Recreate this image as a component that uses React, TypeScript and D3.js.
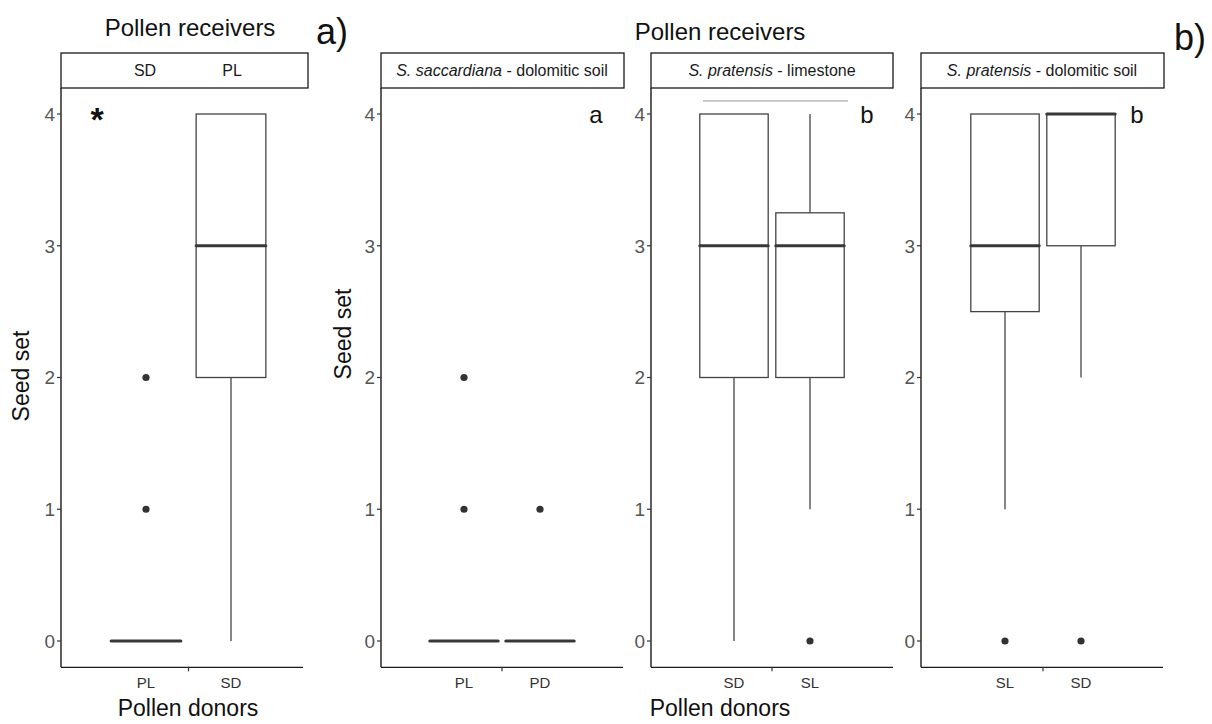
import React from 'react';
import * as d3 from 'd3';

// box stats: [lower whisker, q1, median, q3, upper whisker]
const catsA = ['PL', 'SD'];
const statsA = [[0, 0, 0, 0, 0], [0, 2, 3, 4, 4]];
const outA = [[1, 2], []];

const catsB1 = ['PL', 'PD'];
const statsB1 = [[0, 0, 0, 0, 0], [0, 0, 0, 0, 0]];
const outB1 = [[1, 2], [1]];

const catsB2 = ['SD', 'SL'];
const statsB2 = [[0, 2, 3, 4, 4], [1, 2, 3, 3.25, 4]];
const outB2 = [[], [0]];

const catsB3 = ['SL', 'SD'];
const statsB3 = [[1, 2.5, 3, 4, 4], [2, 3, 4, 4, 4]];
const outB3 = [[0], [0]];

const yTicks = [0, 1, 2, 3, 4];
const stripA = ['SD', 'PL'];
const sigLine = 4.1;

const font = "'Liberation Sans', Arial, sans-serif";

const y = d3.scaleLinear().domain([0, 4]).range([641, 114]);

type PanelProps = {
  x0: number; x1: number; stripRight: number; band: [number, number];
  cats: string[]; stats: number[][]; outs: number[][]; ratio: number;
};

const Panel = ({ x0, x1, stripRight, band, cats, stats, outs, ratio }: PanelProps) => {
  const x = d3.scaleBand().domain(cats).range(band).padding(0);
  const bw = x.bandwidth() * ratio;
  const yBottom = y(-0.2);
  const tickX = (band[0] + band[1]) / 2;
  return (
    <g>
      {/* strip */}
      <rect x={x0} y={53} width={stripRight - x0} height={35} fill="#fff" stroke="#1a1a1a" strokeWidth={1.3} />
      {/* boxes */}
      {cats.map((c, i) => {
        const cx = (x(c) as number) + x.bandwidth() / 2;
        const [lo, q1, med, q3, hi] = stats[i];
        return (
          <g key={c}>
            <line x1={cx} x2={cx} y1={y(lo)} y2={y(q1)} stroke="#444" strokeWidth={1.3} />
            <line x1={cx} x2={cx} y1={y(q3)} y2={y(hi)} stroke="#444" strokeWidth={1.3} />
            {q3 > q1 && (
              <rect x={cx - bw / 2} y={y(q3)} width={bw} height={y(q1) - y(q3)} fill="#fff" stroke="#444" strokeWidth={1.3} />
            )}
            <line x1={cx - bw / 2} x2={cx + bw / 2} y1={y(med)} y2={y(med)} stroke="#383838" strokeWidth={3} strokeLinecap="round" />
            {outs[i].map((o) => (
              <circle key={o} cx={cx} cy={y(o)} r={3.6} fill="#333" />
            ))}
            <text x={cx} y={688} textAnchor="middle" fontSize={15} fill="#333" fontFamily={font}>{c}</text>
          </g>
        );
      })}
      {/* axes */}
      <line x1={x0} x2={x0} y1={88} y2={yBottom} stroke="#1a1a1a" strokeWidth={1.4} />
      <line x1={x0} x2={x1} y1={yBottom} y2={yBottom} stroke="#1a1a1a" strokeWidth={1.4} />
      <line x1={tickX} x2={tickX} y1={yBottom} y2={yBottom + 4} stroke="#333" strokeWidth={1.2} />
      {yTicks.map((t) => (
        <g key={t}>
          <line x1={x0 - 4} x2={x0} y1={y(t)} y2={y(t)} stroke="#333" strokeWidth={1.2} />
          <text x={x0 - 6} y={y(t)} dy="0.36em" textAnchor="end" fontSize={19} fill="#555" fontFamily={font}>{t}</text>
        </g>
      ))}
    </g>
  );
};

const StripLabel = ({ cx, sp, rest }: { cx: number; sp: string; rest: string }) => (
  <text x={cx} y={76} textAnchor="middle" fontSize={16} fill="#1a1a1a" fontFamily={font}>
    <tspan fontStyle="italic">{sp}</tspan>{rest}
  </text>
);

export default function App() {
  return (
    <svg width={1212} height={724} style={{ position: 'absolute', left: 0, top: 0, background: '#fff' }} fontFamily={font}>
      <rect width={1212} height={724} fill="#fff" />

      {/* panel a */}
      <text x={190} y={36} textAnchor="middle" fontSize={24} fill="#111">Pollen receivers</text>
      <text x={316} y={44} fontSize={36} fill="#111">a)</text>
      <Panel x0={61} x1={303} stripRight={308} band={[103.5, 273.5]} cats={catsA} stats={statsA} outs={outA} ratio={0.82} />
      {stripA.map((s, i) => (
        <text key={s} x={145 + i * 87} y={76} textAnchor="middle" fontSize={16} fill="#1a1a1a">{s}</text>
      ))}
      <text x={97} y={131} textAnchor="middle" fontSize={34} fontWeight="bold" fill="#111">*</text>
      <text transform="translate(29,376) rotate(-90)" textAnchor="middle" fontSize={23} fill="#111">Seed set</text>
      <text x={188} y={716} textAnchor="middle" fontSize={23} fill="#111">Pollen donors</text>

      {/* panel b */}
      <text x={720} y={40} textAnchor="middle" fontSize={24} fill="#111">Pollen receivers</text>
      <text x={1174} y={50} fontSize={36} fill="#111">b)</text>
      <text transform="translate(351,334) rotate(-90)" textAnchor="middle" fontSize={23} fill="#111">Seed set</text>
      <text x={720} y={716} textAnchor="middle" fontSize={23} fill="#111">Pollen donors</text>

      <Panel x0={381} x1={623} stripRight={624} band={[426, 578]} cats={catsB1} stats={statsB1} outs={outB1} ratio={0.9} />
      <StripLabel cx={502} sp="S. saccardiana" rest=" - dolomitic soil" />
      <text x={596} y={123} textAnchor="middle" fontSize={24} fill="#111">a</text>

      <Panel x0={651} x1={893} stripRight={893} band={[696, 848]} cats={catsB2} stats={statsB2} outs={outB2} ratio={0.9} />
      <StripLabel cx={772} sp="S. pratensis" rest=" - limestone" />
      <line x1={703} x2={848} y1={y(sigLine)} y2={y(sigLine)} stroke="#aaa" strokeWidth={1.2} />
      <text x={867} y={123} textAnchor="middle" fontSize={24} fill="#111">b</text>

      <Panel x0={921} x1={1163} stripRight={1164} band={[967, 1119]} cats={catsB3} stats={statsB3} outs={outB3} ratio={0.9} />
      <StripLabel cx={1042} sp="S. pratensis" rest=" - dolomitic soil" />
      <text x={1137} y={123} textAnchor="middle" fontSize={24} fill="#111">b</text>
    </svg>
  );
}
